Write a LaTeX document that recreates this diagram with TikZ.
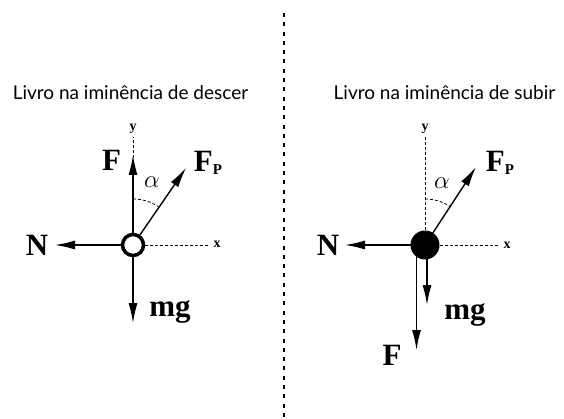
\documentclass[tikz,border=0pt]{standalone}
\usepackage{fontspec}
\setmainfont{Liberation Serif}
\newfontfamily\titlefont{Lato}
\usetikzlibrary{arrows.meta,calc}
\tikzset{
  force/.style={line width=1.4pt,-{Latex[length=20pt,width=9pt]}},
  axis/.style={line width=0.8pt,dash pattern=on 3pt off 2pt},
  lbl/.style={font=\fontsize{31}{31}\bfseries\selectfont,inner sep=0pt},
  axlbl/.style={font=\fontsize{14}{14}\bfseries\selectfont,inner sep=0pt},
  ttl/.style={font=\titlefont\fontsize{19}{19}\selectfont,anchor=base}
}
\begin{document}
\begin{tikzpicture}[line cap=butt,line join=round,x=1pt,y=1pt]
  \useasboundingbox (0,0) rectangle (564,418);
  % divider
  \coordinate (divtop) at (284,405);
  \coordinate (divbot) at (284,0);
  \draw [line width=1.6pt,dash pattern=on 4pt off 5.3pt] (divtop)-- (divbot);
  % left: descer
  \node[ttl] (ttl1) at (130.5,318) {Livro na iminência de descer};
  \node[circle,draw,line width=3.5pt,minimum size=21pt,inner sep=0pt] (O1) at (133,173) {};
  \coordinate (ytop1) at (133,281);
  \coordinate (xend1) at (208,173);
  \coordinate (Ftip1) at (133,263);
  \coordinate (Ntip1) at (55,173);
  \coordinate (mgtip1) at (133,95);
  \coordinate (Ptip1) at (186,250);
  \draw [axis] (O1)-- (ytop1);
  \draw [axis] (O1)-- (xend1);
  \draw [axis] ($(O1.center)+(90:46)$) arc (90:56.5:46);
  \draw [force] (O1)-- (Ftip1);
  \draw [force] (O1)-- (Ntip1);
  \draw [force] (O1)-- (mgtip1);
  \draw [force] (O1)-- (Ptip1);
  \node[axlbl] (y1) at (133,289) {y};
  \node[axlbl] (x1) at (217,174) {x};
  \node[lbl] (F1) at (111.5,258) {F};
  \node[lbl] (N1) at (37,173) {N};
  \node[lbl] (mg1) at (170,106) {mg};
  \node[lbl] (P1) at (208,255) {F\raisebox{-3pt}{\fontsize{15}{15}\selectfont P}};
  \node[font=\fontsize{24}{24}\selectfont,inner sep=0pt] (a1) at (152,236) {$\alpha$};
  % right: subir
  \node[ttl] (ttl2) at (444.5,318) {Livro na iminência de subir};
  \coordinate (c2) at (425,173);
  \coordinate (ytop2) at (425,281);
  \coordinate (xend2) at (498,173);
  \coordinate (Ntip2) at (345,173);
  \coordinate (Ptip2) at (476,251);
  \coordinate (mgtip2) at (427,113);
  \coordinate (Ftip2) at (416.5,68);
  \draw [axis] (c2)-- (ytop2);
  \draw [axis] (c2)-- (xend2);
  \draw [axis] ($(c2)+(90:46)$) arc (90:57:46);
  \draw [force] (c2)-- (Ntip2);
  \draw [force] (c2)-- (Ptip2);
  \draw [force] (c2 -| mgtip2)-- (mgtip2);
  \draw [force] (c2 -| Ftip2)-- (Ftip2);
  \node[circle,fill=black,minimum size=29pt,inner sep=0pt] (O2) at (c2) {};
  \node[axlbl] (y2) at (425,289) {y};
  \node[axlbl] (x2) at (507,173) {x};
  \node[lbl] (N2) at (328,173) {N};
  \node[lbl] (mg2) at (465,103) {mg};
  \node[lbl] (F2) at (392,63) {F};
  \node[lbl] (P2) at (500,255) {F\raisebox{-3pt}{\fontsize{15}{15}\selectfont P}};
  \node[font=\fontsize{24}{24}\selectfont,inner sep=0pt] (a2) at (442,235) {$\alpha$};
\end{tikzpicture}
\end{document}
